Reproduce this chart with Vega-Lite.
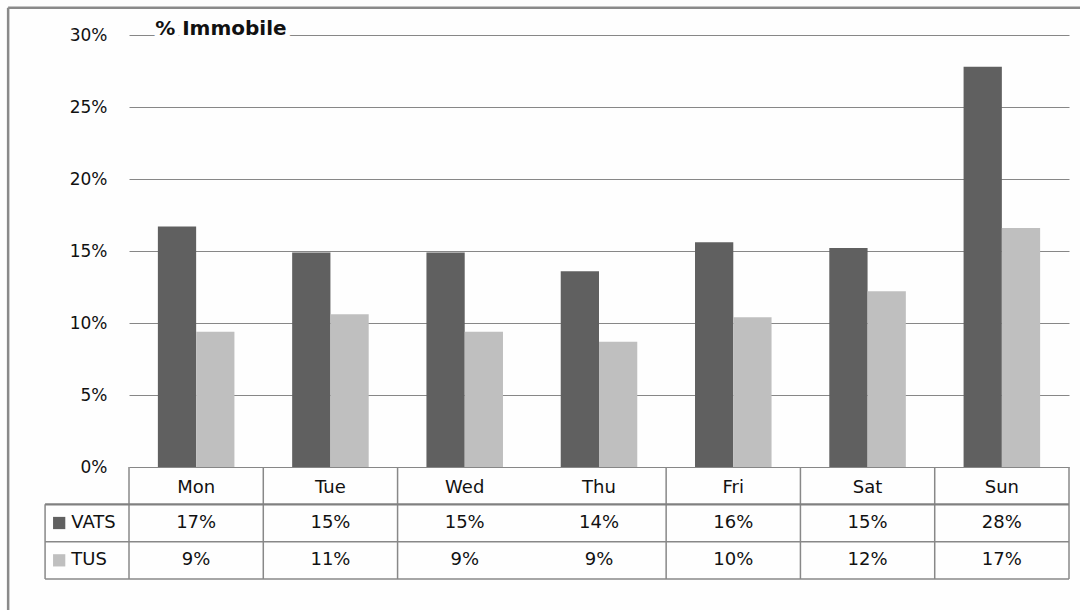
{
  "$schema": "https://vega.github.io/schema/vega-lite/v6.json",
  "autosize": {"type": "none"},
  "width": 940,
  "height": 432,
  "padding": {"left": 129, "top": 35, "right": 11, "bottom": 143},
  "background": "#fefefe",
  "config": {"view": {"stroke": null}, "font": "DejaVu Sans", "text": {"font": "DejaVu Sans"}},
  "datasets": {
    "immobile": [
      {"day": "Mon", "series": "VATS", "value": 0.167},
      {"day": "Mon", "series": "TUS", "value": 0.094},
      {"day": "Tue", "series": "VATS", "value": 0.149},
      {"day": "Tue", "series": "TUS", "value": 0.106},
      {"day": "Wed", "series": "VATS", "value": 0.149},
      {"day": "Wed", "series": "TUS", "value": 0.094},
      {"day": "Thu", "series": "VATS", "value": 0.136},
      {"day": "Thu", "series": "TUS", "value": 0.087},
      {"day": "Fri", "series": "VATS", "value": 0.156},
      {"day": "Fri", "series": "TUS", "value": 0.104},
      {"day": "Sat", "series": "VATS", "value": 0.152},
      {"day": "Sat", "series": "TUS", "value": 0.122},
      {"day": "Sun", "series": "VATS", "value": 0.278},
      {"day": "Sun", "series": "TUS", "value": 0.166}
    ],
    "legend": [
      {"series": "VATS", "row": 1.5},
      {"series": "TUS", "row": 2.5}
    ],
    "one": [{}]
  },
  "layer": [
    {
      "data": {"name": "immobile"},
      "layer": [
        {
          "mark": {"type": "bar"},
          "encoding": {
            "x": {"field": "day", "type": "nominal", "sort": ["Mon","Tue","Wed","Thu","Fri","Sat","Sun"],
                  "scale": {"domain": ["Mon","Tue","Wed","Thu","Fri","Sat","Sun"], "paddingInner": 0.43, "paddingOuter": 0.215},
                  "axis": null},
            "xOffset": {"field": "series", "type": "nominal", "scale": {"domain": ["VATS","TUS"], "paddingInner": 0, "paddingOuter": 0}},
            "y": {"field": "value", "type": "quantitative",
                  "scale": {"domain": [0, 0.3], "nice": false},
                  "axis": {"title": null, "values": [0,0.05,0.1,0.15,0.2,0.25,0.3], "format": ".0%",
                           "domain": false, "ticks": false, "labelFontSize": 17, "labelColor": "#111",
                           "labelPadding": 22, "labelFont": "DejaVu Sans",
                           "grid": true, "gridColor": "#878787", "gridWidth": 1.2}},
            "color": {"field": "series", "type": "nominal", "scale": {"domain": ["VATS","TUS"], "range": ["#606060","#bfbfbf"]}, "legend": null}
          }
        },
        {
          "data": {"values": [{"t": "% Immobile"}]},
          "mark": {"type": "text", "align": "left", "baseline": "middle", "dx": -41, "dy": -6, "fontSize": 20, "fontWeight": "bold",
                   "fill": "#fefefe", "stroke": "#fefefe", "strokeWidth": 10, "strokeJoin": "round"},
          "encoding": {
            "x": {"datum": "Mon", "type": "nominal"},
            "y": {"datum": 0.3, "type": "quantitative"},
            "text": {"field": "t"}
          }
        },
        {
          "data": {"values": [{"t": "% Immobile"}]},
          "mark": {"type": "text", "align": "left", "baseline": "middle", "dx": -41, "dy": -6, "fontSize": 20, "fontWeight": "bold", "color": "#111"},
          "encoding": {
            "x": {"datum": "Mon", "type": "nominal"},
            "y": {"datum": 0.3, "type": "quantitative"},
            "text": {"field": "t"}
          }
        }
      ]
    },
    {
      "layer": [
        {
          "data": {"name": "immobile"},
          "transform": [{"filter": "datum.series === 'VATS' && datum.day !== 'Thu'"}],
          "mark": {"type": "rule", "color": "#888", "strokeWidth": 1.5},
          "encoding": {
            "x": {"field": "day", "type": "nominal", "bandPosition": 0,
                  "scale": {"domain": ["Mon","Tue","Wed","Thu","Fri","Sat","Sun"], "paddingInner": 0, "paddingOuter": 0}, "axis": null},
            "y": {"datum": 0, "type": "quantitative", "scale": {"domain": [0, 3], "range": [432, 544]}, "axis": null},
            "y2": {"datum": 3}
          }
        },
        {
          "data": {"name": "one"},
          "mark": {"type": "rule", "color": "#888", "strokeWidth": 1.5},
          "encoding": {
            "x": {"datum": 7, "type": "quantitative", "scale": {"domain": [0, 7]}, "axis": null},
            "y": {"datum": 0, "type": "quantitative", "axis": null},
            "y2": {"datum": 3}
          }
        },
        {
          "data": {"name": "one"},
          "mark": {"type": "rule", "color": "#888", "strokeWidth": 1.5},
          "encoding": {
            "x": {"datum": -0.625, "type": "quantitative", "scale": {"domain": [0, 7]}, "axis": null},
            "y": {"datum": 1, "type": "quantitative", "axis": null},
            "y2": {"datum": 3}
          }
        },
        {
          "data": {"name": "one"},
          "mark": {"type": "rule", "color": "#808080", "strokeWidth": 2.2},
          "encoding": {
            "x": {"datum": -0.625, "type": "quantitative", "scale": {"domain": [0, 7]}, "axis": null},
            "x2": {"datum": 7},
            "y": {"datum": 1, "type": "quantitative", "axis": null}
          }
        },
        {
          "data": {"name": "one"},
          "mark": {"type": "rule", "color": "#888", "strokeWidth": 1.5},
          "encoding": {
            "x": {"datum": -0.625, "type": "quantitative", "scale": {"domain": [0, 7]}, "axis": null},
            "x2": {"datum": 7},
            "y": {"datum": 2, "type": "quantitative", "axis": null}
          }
        },
        {
          "data": {"name": "one"},
          "mark": {"type": "rule", "color": "#888", "strokeWidth": 1.5},
          "encoding": {
            "x": {"datum": -0.625, "type": "quantitative", "scale": {"domain": [0, 7]}, "axis": null},
            "x2": {"datum": 7},
            "y": {"datum": 3, "type": "quantitative", "axis": null}
          }
        },
        {
          "data": {"name": "one"},
          "mark": {"type": "rule", "color": "#8a8a8a", "strokeWidth": 2.5},
          "encoding": {
            "x": {"datum": -0.9, "type": "quantitative", "scale": {"domain": [0, 7]}, "axis": null},
            "y": {"datum": -12.3, "type": "quantitative", "axis": null},
            "y2": {"datum": 4.2}
          }
        },
        {
          "data": {"name": "one"},
          "mark": {"type": "rule", "color": "#8a8a8a", "strokeWidth": 2.5},
          "encoding": {
            "x": {"datum": -0.9, "type": "quantitative", "scale": {"domain": [0, 7]}, "axis": null},
            "x2": {"datum": 7.2},
            "y": {"datum": -12.3, "type": "quantitative", "axis": null}
          }
        },
        {
          "data": {"name": "immobile"},
          "transform": [{"filter": "datum.series === 'VATS'"}],
          "mark": {"type": "text", "fontSize": 18, "color": "#111", "baseline": "middle"},
          "encoding": {
            "x": {"field": "day", "type": "nominal", "scale": {"domain": ["Mon","Tue","Wed","Thu","Fri","Sat","Sun"], "paddingInner": 0, "paddingOuter": 0}, "axis": null},
            "y": {"datum": 0.55, "type": "quantitative", "axis": null},
            "text": {"field": "day"}
          }
        },
        {
          "data": {"name": "immobile"},
          "transform": [{"filter": "datum.series === 'VATS'"}],
          "mark": {"type": "text", "fontSize": 18, "color": "#111", "baseline": "middle"},
          "encoding": {
            "x": {"field": "day", "type": "nominal", "scale": {"domain": ["Mon","Tue","Wed","Thu","Fri","Sat","Sun"], "paddingInner": 0, "paddingOuter": 0}, "axis": null},
            "y": {"datum": 1.5, "type": "quantitative", "axis": null},
            "text": {"field": "value", "format": ".0%"}
          }
        },
        {
          "data": {"name": "immobile"},
          "transform": [{"filter": "datum.series === 'TUS'"}],
          "mark": {"type": "text", "fontSize": 18, "color": "#111", "baseline": "middle"},
          "encoding": {
            "x": {"field": "day", "type": "nominal", "scale": {"domain": ["Mon","Tue","Wed","Thu","Fri","Sat","Sun"], "paddingInner": 0, "paddingOuter": 0}, "axis": null},
            "y": {"datum": 2.5, "type": "quantitative", "axis": null},
            "text": {"field": "value", "format": ".0%"}
          }
        },
        {
          "data": {"name": "legend"},
          "mark": {"type": "point", "shape": "square", "filled": true, "size": 150, "opacity": 1},
          "encoding": {
            "x": {"datum": -0.52, "type": "quantitative", "scale": {"domain": [0, 7]}, "axis": null},
            "y": {"field": "row", "type": "quantitative", "axis": null},
            "color": {"field": "series", "type": "nominal", "scale": {"domain": ["VATS","TUS"], "range": ["#606060","#bfbfbf"]}, "legend": null}
          }
        },
        {
          "data": {"name": "legend"},
          "mark": {"type": "text", "fontSize": 18, "color": "#111", "baseline": "middle", "align": "left"},
          "encoding": {
            "x": {"datum": -0.43, "type": "quantitative", "scale": {"domain": [0, 7]}, "axis": null},
            "y": {"field": "row", "type": "quantitative", "axis": null},
            "text": {"field": "series"}
          }
        }
      ],
      "resolve": {"scale": {"x": "independent", "color": "independent"}}
    }
  ],
  "resolve": {"scale": {"x": "independent", "y": "independent", "color": "independent"}}
}
